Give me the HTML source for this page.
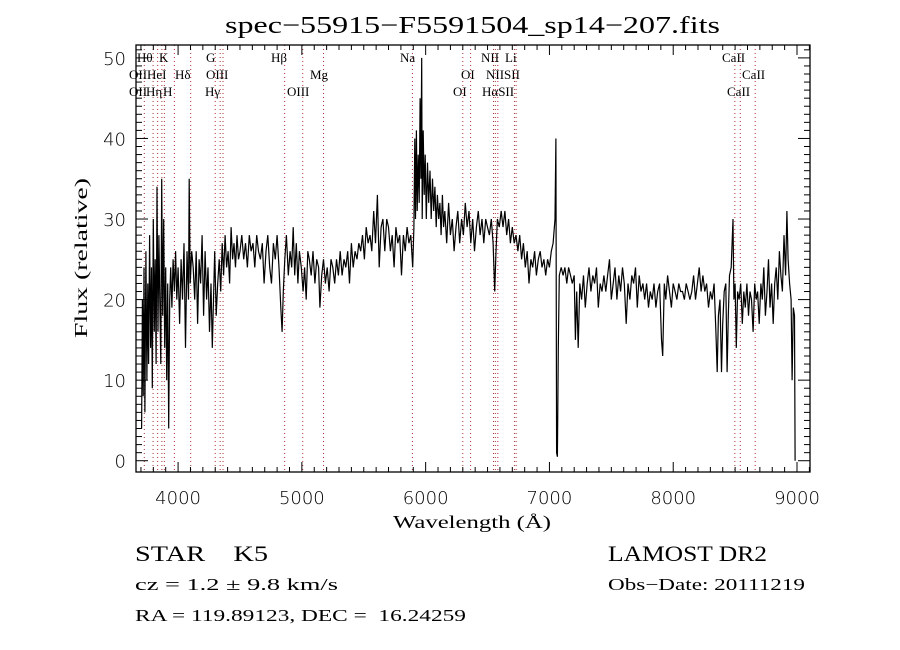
<!DOCTYPE html>
<html><head><meta charset="utf-8"><style>
html,body{margin:0;padding:0;background:#fff;}
svg{display:block;}
.serif{font-family:"Liberation Serif","DejaVu Serif",serif;fill:#000;}
.sans{font-family:"DejaVu Sans","Liberation Sans",sans-serif;fill:#000;font-weight:200;}
</style></head><body>
<svg id="chart" width="900" height="650" viewBox="0 0 900 650" xmlns="http://www.w3.org/2000/svg">
<rect width="900" height="650" fill="#fff"/>
<text class="serif" x="225" y="33" font-size="24" textLength="495" lengthAdjust="spacingAndGlyphs">spec−55915−F5591504_sp14−207.fits</text>
<g id="lines"></g>
<g id="labels" class="serif" font-size="13">
<text x="137" y="62">Hθ</text><text x="159" y="62">K</text><text x="206" y="62">G</text><text x="271" y="62">Hβ</text><text x="400" y="62">Na</text><text x="481" y="62">NII</text><text x="505" y="62">Li</text><text x="722" y="62">CaII</text>
<text x="129" y="79">OII</text><text x="147" y="79">HeI</text><text x="175" y="79">Hδ</text><text x="206" y="79">OIII</text><text x="310" y="79">Mg</text><text x="461" y="79">OI</text><text x="486" y="79">NIISII</text><text x="742" y="79">CaII</text>
<text x="129" y="96">OII</text><text x="146" y="96">Hη</text><text x="163" y="96">H</text><text x="205" y="96">Hγ</text><text x="287" y="96">OIII</text><text x="453" y="96">OI</text><text x="482" y="96">HαSII</text><text x="727" y="96">CaII</text>
</g>
<g id="axes"></g>
<path id="spec" fill="none" stroke="#000" stroke-width="1.2"/>
<text class="serif" x="393" y="528" font-size="18" textLength="158" lengthAdjust="spacingAndGlyphs">Wavelength (Å)</text>
<text class="serif" x="0" y="0" font-size="18" text-anchor="middle" textLength="160" lengthAdjust="spacingAndGlyphs" transform="translate(87,258) rotate(-90)">Flux (relative)</text>
<text class="serif" x="135" y="561" font-size="22" textLength="133" lengthAdjust="spacingAndGlyphs" xml:space="preserve">STAR    K5</text>
<text class="serif" x="608" y="561" font-size="22" textLength="159" lengthAdjust="spacingAndGlyphs">LAMOST DR2</text>
<text class="serif" x="135" y="590" font-size="17" textLength="203" lengthAdjust="spacingAndGlyphs">cz = 1.2 ± 9.8 km/s</text>
<text class="serif" x="608" y="590" font-size="17" textLength="197" lengthAdjust="spacingAndGlyphs">Obs−Date: 20111219</text>
<text class="serif" x="135" y="621" font-size="17" textLength="331" lengthAdjust="spacingAndGlyphs" xml:space="preserve">RA = 119.89123, DEC =  16.24259</text>
</svg>
<script>
const wave=[3705,3712,3718,3725,3732,3740,3748,3755,3762,3770,3778,3785,3792,3800,3808,3815,3822,3830,3838,3845,3852,3860,3868,3876,3884,3892,3900,3908,3916,3924,3932,3940,3950,3960,3970,3980,3990,4000,4012,4024,4036,4048,4060,4072,4084,4090,4098,4110,4122,4134,4146,4158,4170,4182,4194,4206,4218,4230,4242,4254,4266,4276,4286,4296,4308,4320,4332,4344,4356,4368,4380,4392,4404,4416,4428,4440,4452,4464,4476,4488,4500,4515,4530,4545,4560,4575,4590,4605,4620,4635,4650,4665,4680,4695,4710,4725,4740,4755,4770,4785,4800,4815,4830,4840,4850,4862,4875,4890,4905,4918,4930,4942,4955,4968,4980,4995,5010,5022,5035,5048,5060,5075,5090,5105,5120,5135,5146,5160,5175,5190,5205,5220,5235,5250,5265,5280,5295,5310,5325,5340,5355,5370,5385,5400,5415,5430,5445,5460,5475,5490,5505,5520,5535,5550,5565,5580,5595,5610,5625,5640,5655,5670,5685,5700,5715,5730,5745,5760,5775,5790,5805,5820,5835,5850,5865,5880,5895,5905,5912,5918,5925,5932,5940,5948,5955,5962,5968,5972,5980,5988,5996,6005,6015,6025,6035,6045,6055,6065,6075,6085,6095,6105,6115,6125,6135,6145,6155,6170,6185,6200,6215,6230,6245,6260,6275,6290,6305,6320,6335,6350,6365,6380,6395,6410,6425,6440,6455,6470,6485,6500,6515,6530,6545,6558,6568,6580,6595,6610,6625,6640,6655,6670,6685,6700,6715,6730,6745,6760,6775,6790,6805,6820,6835,6850,6865,6880,6895,6910,6925,6940,6955,6970,6985,7000,7015,7030,7045,7052,7058,7064,7072,7080,7095,7110,7125,7140,7155,7170,7185,7200,7210,7220,7232,7245,7260,7275,7290,7305,7320,7335,7350,7365,7380,7395,7410,7425,7440,7455,7470,7485,7500,7515,7530,7545,7560,7575,7590,7605,7620,7635,7650,7665,7680,7695,7710,7725,7740,7755,7770,7785,7800,7815,7830,7845,7860,7875,7890,7905,7915,7928,7940,7955,7970,7985,8000,8015,8030,8045,8060,8075,8090,8105,8120,8135,8150,8165,8180,8195,8210,8225,8240,8255,8270,8285,8300,8315,8330,8345,8355,8365,8378,8390,8400,8412,8425,8435,8445,8455,8468,8478,8483,8490,8500,8510,8520,8532,8545,8558,8570,8582,8595,8608,8620,8632,8645,8658,8670,8682,8695,8708,8720,8732,8745,8758,8770,8782,8795,8808,8820,8832,8845,8858,8870,8882,8895,8908,8918,8928,8940,8952,8960,8970,8980,8985];
const flux=[4,20,8,24,6,26,10,22,12,28,14,24,9,30,16,25,12,34,16,28,20,12,35,18,30,14,24,10,22,4,20,24,19,25,21,26,20,24,17,25,20,27,14,26,20,35,22,26,24,20,26,17,25,22,28,18,26,20,24,16,22,14,20,26,18,22,25,21,27,23,28,24,26,22,29,25,27,24,28,25,26,28,25,27,24,28,26,27,24,28,26,25,27,22,26,28,24,22,27,25,28,24,19,16,21,25,28,23,26,24,29,23,27,22,26,24,21,24,20,26,25,23,26,22,25,24,19,23,25,22,24,21,25,24,22,25,23,26,23,25,24,26,22,27,24,26,25,27,26,28,25,29,27,28,26,31,27,33,24,29,30,26,30,29,26,28,24,29,27,28,23,28,26,29,27,28,24,29,40,30,41,31,38,32,45,35,50,30,41,33,38,30,37,32,36,30,35,31,34,29,33,30,32,28,33,29,31,27,32,28,30,26,29,31,27,30,28,32,29,31,27,30,26,29,31,28,30,27,30,29,28,30,27,21,26,30,29,31,29,31,28,30,27,29,27,28,26,28,25,27,24,26,22,25,24,26,23,25,26,24,25,23,25,24,26,27,30,40,1,0.5,14,23,24,23,24,22,24,23,22,23,15,21,14,22,20,23,19,22,24,21,23,22,24,19,22,21,23,21,23,25,20,22,24,20,23,21,24,22,17,22,20,23,22,24,19,23,21,22,20,22,19,21,20,22,19,21,22,15,13,22,20,23,21,19,22,21,20,22,21,21,20,22,21,20,21,23,20,22,24,21,23,21,22,19,21,20,22,16,11,18,20,11,17,21,22,11,18,23,24,28,30,20,22,14,21,20,22,17,21,19,22,18,21,20,16,22,20,21,17,22,20,24,18,21,25,19,22,17,22,24,20,26,23,21,28,23,31,25,22,20,10,19,18,0];
const lineWaves=[3727,3798,3835,3869,3889,3970,4102,4300,4340,4363,4861,5007,5175,5893,6300,6363,6548,6563,6583,6717,6731,8498,8542,8662];
const xTickLabels=["4000","5000","6000","7000","8000","9000"];
const yTickLabels=["0","10","20","30","40","50"];
const L=136,R=810,T=45,B=472,X0=3660,X1=9105,Y0=-1.4,Y1=51.6;
const sx=w=>L+(w-X0)/(X1-X0)*(R-L);
const sy=f=>B-(f-Y0)/(Y1-Y0)*(B-T);
const NS="http://www.w3.org/2000/svg";
function mk(tag,attrs,parent){const e=document.createElementNS(NS,tag);for(const k in attrs)e.setAttribute(k,attrs[k]);parent.appendChild(e);return e;}
const lg=document.getElementById('lines');
lineWaves.forEach(w=>{const l=mk('line',{x1:sx(w),x2:sx(w),y1:T,y2:B,stroke:'#a33',"stroke-width":1,"stroke-dasharray":"1,3"},lg);

});
let d='';wave.forEach((w,i)=>{d+=(i?'L':'M')+sx(w).toFixed(1)+','+sy(flux[i]).toFixed(1);});
document.getElementById('spec').setAttribute('d',d);
const ax=document.getElementById('axes');
const fr=mk('rect',{x:L,y:T,width:R-L,height:B-T,fill:'none',stroke:'#000',"stroke-width":1.3},ax);


for(let w=3700;w<=9100;w+=100){const maj=w%1000===0;const len=maj?10:5;
mk('line',{x1:sx(w),x2:sx(w),y1:B,y2:B-len,stroke:'#000'},ax);
mk('line',{x1:sx(w),x2:sx(w),y1:T,y2:T+len,stroke:'#000'},ax);}
for(let f=0;f<=51;f+=1){const maj=f%10===0;const len=maj?12:6;
mk('line',{x1:L,x2:L+len,y1:sy(f),y2:sy(f),stroke:'#000'},ax);
mk('line',{x1:R,x2:R-len,y1:sy(f),y2:sy(f),stroke:'#000'},ax);}
xTickLabels.forEach(s=>{const t=mk('text',{x:sx(+s),y:504,"font-size":18,"text-anchor":"middle",class:"sans"},ax);t.textContent=s;

});
yTickLabels.forEach(s=>{const t=mk('text',{x:L-10,y:sy(+s)+7,"font-size":18,"text-anchor":"end",class:"sans"},ax);t.textContent=s;

});
</script>
</body></html>
